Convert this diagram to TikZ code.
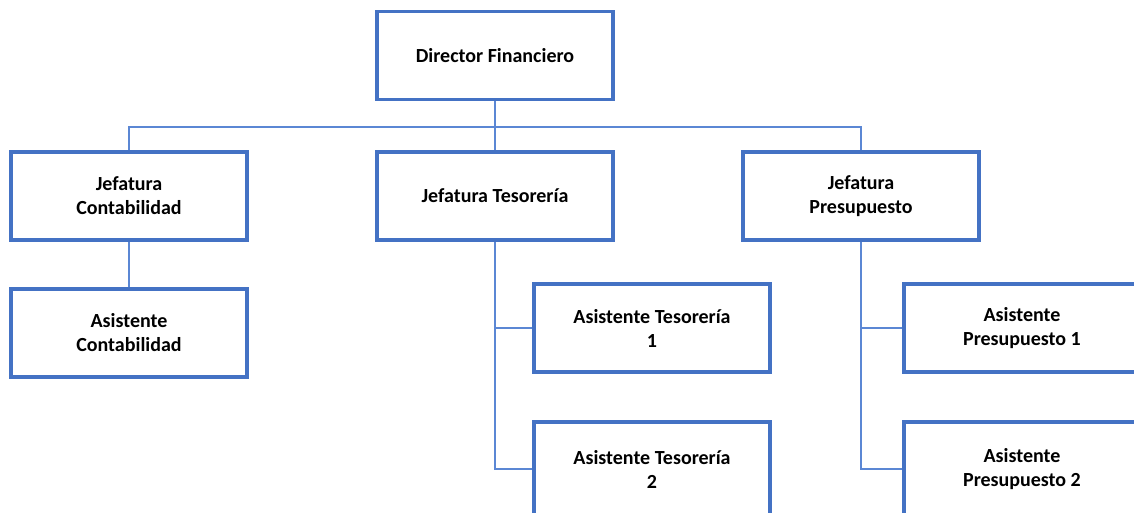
\documentclass[tikz,border=0pt]{standalone}
\usepackage{fontspec}
\setmainfont{Carlito}
\definecolor{boxblue}{HTML}{4472C4}
\definecolor{lineblue}{HTML}{5B87D4}
\begin{document}
\begin{tikzpicture}[x=1pt,y=-1pt,
  box/.style={draw=boxblue,line width=3.2pt,fill=white,minimum width=236pt,minimum height=88pt,align=center,inner sep=0pt,font=\fontsize{20}{24}\selectfont\bfseries},
  lowbox/.style={box,minimum height=94pt},
  conn/.style={draw=lineblue,line width=1.6pt}]
\useasboundingbox (0,0) rectangle (1134,512);
\clip (0,0) rectangle (1134,512);
\fill[white] (0,0) rectangle (1134,512);
\node[box] (dir) at (495,55.5) {Director Financiero};
\node[box] (jc) at (129,196) {Jefatura\\Contabilidad};
\node[box] (jt) at (495,196) {Jefatura Tesorería};
\node[box] (jp) at (861,196) {Jefatura\\Presupuesto};
\node[box] (ac) at (129,333) {Asistente\\Contabilidad};
\node[box] (at1) at (652,328) {Asistente Tesorería\\1};
\node[lowbox] (at2) at (652,469) {Asistente Tesorería\\2};
\node[box] (ap1) at (1022,328) {Asistente\\Presupuesto 1};
\node[lowbox] (ap2) at (1022,469) {Asistente\\Presupuesto 2};
\coordinate (bus) at (495,127);
\draw[conn] (dir.south) -- (bus);
\draw[conn] (jc.north) |- (bus) -| (jp.north);
\draw[conn] (bus) -- (jt.north);
\draw[conn] (jc.south) -- (ac.north);
\draw[conn] (jt.south) |- (at1.west);
\draw[conn] (jt.south) |- (at2.west);
\draw[conn] (jp.south) |- (ap1.west);
\draw[conn] (jp.south) |- (ap2.west);
\end{tikzpicture}
\end{document}
